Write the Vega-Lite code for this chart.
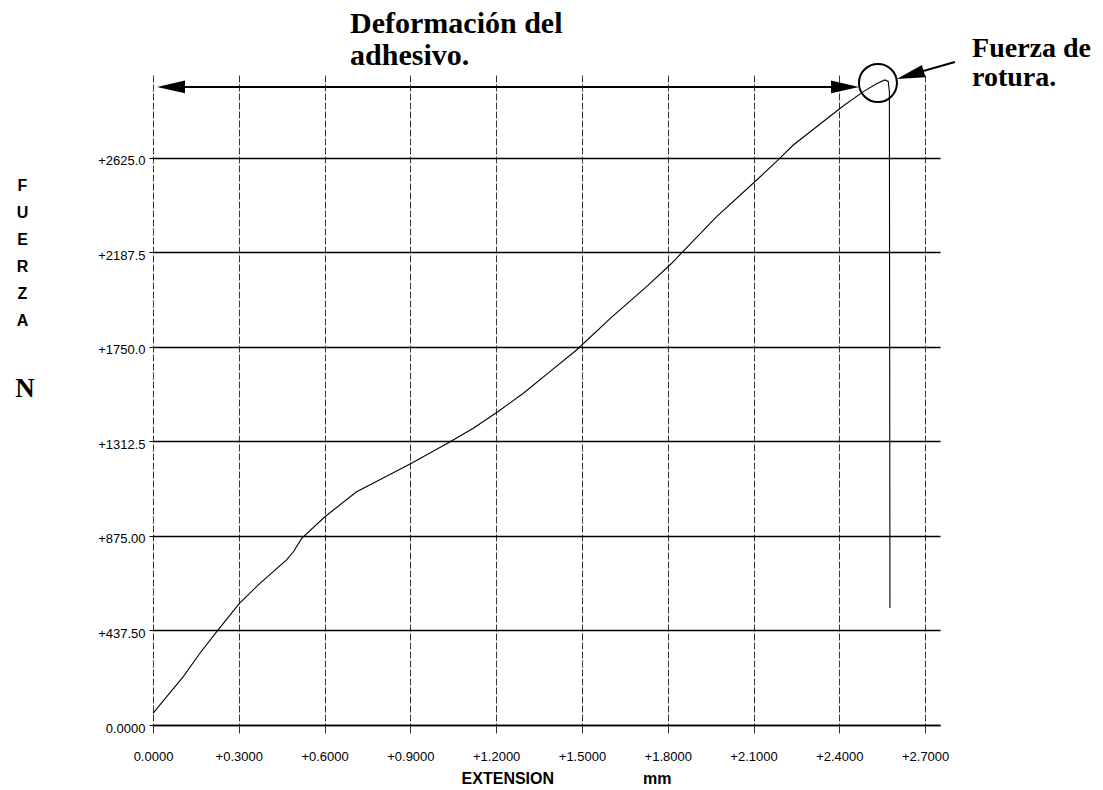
{
  "$schema": "https://vega.github.io/schema/vega-lite/v6.json",
  "width": 787,
  "height": 650,
  "autosize": {"type": "none"},
  "padding": {"left": 153, "top": 75, "right": 163, "bottom": 65},
  "background": "white",
  "config": {"view": {"stroke": null}, "font": "Liberation Sans"},
  "datasets": {
    "curve": [
      {"i": 0, "ext": 0.0, "force": 54},
      {"i": 1, "ext": 0.048, "force": 131},
      {"i": 2, "ext": 0.106, "force": 224},
      {"i": 3, "ext": 0.164, "force": 332},
      {"i": 4, "ext": 0.223, "force": 432},
      {"i": 5, "ext": 0.302, "force": 563},
      {"i": 6, "ext": 0.374, "force": 656},
      {"i": 7, "ext": 0.467, "force": 764},
      {"i": 8, "ext": 0.491, "force": 802},
      {"i": 9, "ext": 0.52, "force": 864},
      {"i": 10, "ext": 0.601, "force": 964},
      {"i": 11, "ext": 0.712, "force": 1080},
      {"i": 12, "ext": 0.8, "force": 1140},
      {"i": 13, "ext": 0.907, "force": 1214},
      {"i": 14, "ext": 1.033, "force": 1307},
      {"i": 15, "ext": 1.12, "force": 1374},
      {"i": 16, "ext": 1.207, "force": 1451},
      {"i": 17, "ext": 1.295, "force": 1536},
      {"i": 18, "ext": 1.388, "force": 1636},
      {"i": 19, "ext": 1.481, "force": 1736},
      {"i": 20, "ext": 1.603, "force": 1887},
      {"i": 21, "ext": 1.726, "force": 2029},
      {"i": 22, "ext": 1.811, "force": 2134},
      {"i": 23, "ext": 1.971, "force": 2353},
      {"i": 24, "ext": 2.111, "force": 2523},
      {"i": 25, "ext": 2.186, "force": 2616},
      {"i": 26, "ext": 2.239, "force": 2685},
      {"i": 27, "ext": 2.411, "force": 2863},
      {"i": 28, "ext": 2.484, "force": 2932},
      {"i": 29, "ext": 2.53, "force": 2968},
      {"i": 30, "ext": 2.559, "force": 2986},
      {"i": 31, "ext": 2.571, "force": 2979},
      {"i": 32, "ext": 2.575, "force": 2932},
      {"i": 33, "ext": 2.577, "force": 542}
    ],
    "note1": [{"label": "Deformación del\nadhesivo."}],
    "note2": [{"label": "Fuerza de\nrotura."}],
    "note3": [{"label": "N"}],
    "one": [{"k": 1}]
  },
  "layer": [
    {
      "data": {"name": "curve"},
      "mark": {"type": "line", "color": "black", "strokeWidth": 1.1},
      "encoding": {
        "x": {
          "field": "ext",
          "type": "quantitative",
          "scale": {"domain": [0, 2.752], "nice": false, "zero": false},
          "axis": {
            "values": [0, 0.3, 0.6, 0.9, 1.2, 1.5, 1.8, 2.1, 2.4, 2.7],
            "labelExpr": "datum.value == 0 ? '0.0000' : '+' + format(datum.value, '.4f')",
            "grid": true,
            "gridColor": "#333",
            "gridWidth": 1,
            "gridDash": [7, 2],
            "tickColor": "#333",
            "tickSize": 8,
            "domainColor": "black",
            "domainWidth": 1.5,
            "labelFont": "Liberation Sans",
            "labelFontSize": 13,
            "labelColor": "black",
            "labelPadding": 17,
            "labelFlush": false,
            "title": "EXTENSION\u00a0\u00a0\u00a0\u00a0\u00a0\u00a0\u00a0\u00a0\u00a0\u00a0\u00a0\u00a0\u00a0\u00a0\u00a0\u00a0\u00a0\u00a0\u00a0\u00a0mm",
            "titleFont": "Liberation Sans",
            "titleFontSize": 16,
            "titleFontWeight": "bold",
            "titleColor": "black",
            "titleX": 413,
            "titleY": 53,
            "titleAlign": "center",
            "titleBaseline": "middle"
          }
        },
        "y": {
          "field": "force",
          "type": "quantitative",
          "scale": {"domain": [0, 3009], "nice": false, "zero": false},
          "axis": {
            "values": [0, 437.5, 875, 1312.5, 1750, 2187.5, 2625],
            "labelExpr": "datum.value == 0 ? '0.0000' : (datum.value < 1000 ? '+' + format(datum.value, '.2f') : '+' + format(datum.value, '.1f'))",
            "grid": true,
            "gridColor": "black",
            "gridWidth": 1.3,
            "domain": false,
            "tickColor": "black",
            "tickSize": 4,
            "labelFont": "Liberation Sans",
            "labelFontSize": 13,
            "labelColor": "black",
            "labelPadding": 4,
            "labelOffset": 3,
            "labelFlush": false,
            "title": ["F", "U", "E", "R", "Z", "A"],
            "titleFont": "Liberation Sans",
            "titleFontSize": 16,
            "titleFontWeight": "bold",
            "titleColor": "black",
            "titleAngle": 0,
            "titleX": -131,
            "titleY": 110,
            "titleAlign": "center",
            "titleBaseline": "middle",
            "titleLineHeight": 27
          }
        },
        "order": {"field": "i", "type": "quantitative"}
      }
    },
    {
      "data": {"name": "one"},
      "mark": {"type": "rule", "color": "black", "strokeWidth": 2},
      "encoding": {
        "x": {"datum": 0.03},
        "x2": {"datum": 2.44},
        "y": {"datum": 2954}
      }
    },
    {
      "data": {"name": "one"},
      "mark": {"type": "point", "shape": "M1,0L-1,-0.46L-1,0.46Z", "filled": true, "color": "black", "size": 784, "angle": 0, "opacity": 1},
      "encoding": {"x": {"datum": 2.42}, "y": {"datum": 2954}}
    },
    {
      "data": {"name": "one"},
      "mark": {"type": "point", "shape": "M1,0L-1,-0.46L-1,0.46Z", "filled": true, "color": "black", "size": 784, "angle": 180, "opacity": 1},
      "encoding": {"x": {"datum": 0.063}, "y": {"datum": 2954}}
    },
    {
      "data": {"name": "one"},
      "mark": {"type": "point", "shape": "circle", "filled": false, "color": "black", "strokeWidth": 2, "size": 1444, "opacity": 1},
      "encoding": {"x": {"datum": 2.535}, "y": {"datum": 2972}}
    },
    {
      "data": {"name": "one"},
      "mark": {"type": "rule", "color": "black", "strokeWidth": 2},
      "encoding": {
        "x": {"datum": 2.62},
        "x2": {"datum": 2.804},
        "y": {"datum": 3000},
        "y2": {"datum": 3069}
      }
    },
    {
      "data": {"name": "one"},
      "mark": {"type": "point", "shape": "M1,0L-1,-0.46L-1,0.46Z", "filled": true, "color": "black", "size": 784, "angle": 163.7, "opacity": 1},
      "encoding": {"x": {"datum": 2.648}, "y": {"datum": 3009}}
    },
    {
      "data": {"name": "note1"},
      "mark": {"type": "text", "align": "left", "baseline": "alphabetic", "font": "Liberation Serif", "fontWeight": "bold", "fontSize": 30, "lineHeight": 32, "lineBreak": "\n", "color": "black"},
      "encoding": {"x": {"datum": 0.689}, "y": {"datum": 3204}, "text": {"field": "label"}}
    },
    {
      "data": {"name": "note2"},
      "mark": {"type": "text", "align": "left", "baseline": "alphabetic", "font": "Liberation Serif", "fontWeight": "bold", "fontSize": 28, "lineHeight": 29, "lineBreak": "\n", "color": "black"},
      "encoding": {"x": {"datum": 2.864}, "y": {"datum": 3093}, "text": {"field": "label"}}
    },
    {
      "data": {"name": "note3"},
      "mark": {"type": "text", "align": "center", "baseline": "alphabetic", "font": "Liberation Serif", "fontWeight": "bold", "fontSize": 27, "color": "black"},
      "encoding": {"x": {"datum": -0.4476}, "y": {"datum": 1518}, "text": {"field": "label"}}
    }
  ]
}
